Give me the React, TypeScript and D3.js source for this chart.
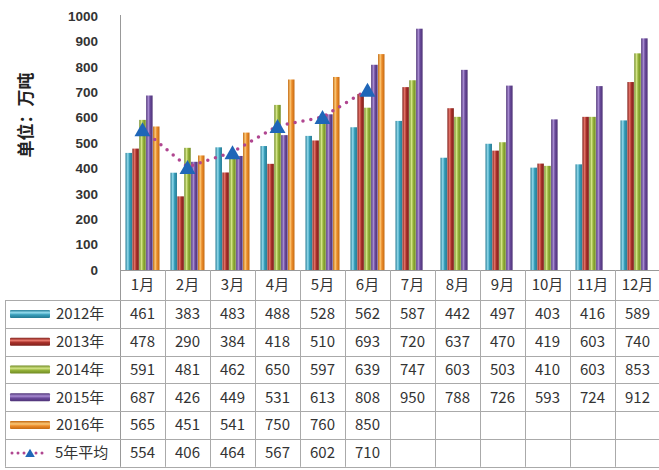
import React from "react";
import * as d3 from "d3";

const months = ["1月", "2月", "3月", "4月", "5月", "6月", "7月", "8月", "9月", "10月", "11月", "12月"];
const seriesNames = ["2012年", "2013年", "2014年", "2015年", "2016年"];
const s2012 = [461, 383, 483, 488, 528, 562, 587, 442, 497, 403, 416, 589];
const s2013 = [478, 290, 384, 418, 510, 693, 720, 637, 470, 419, 603, 740];
const s2014 = [591, 481, 462, 650, 597, 639, 747, 603, 503, 410, 603, 853];
const s2015 = [687, 426, 449, 531, 613, 808, 950, 788, 726, 593, 724, 912];
const s2016 = [565, 451, 541, 750, 760, 850];
const avgName = "5年平均";
const avg5 = [554, 406, 464, 567, 602, 710];
const yTicks = [0, 100, 200, 300, 400, 500, 600, 700, 800, 900, 1000];
const yLabel = "单位：万吨";

const seriesValues = [s2012, s2013, s2014, s2015, s2016];
const colors = [
  { base: "#3a9fbb", light: "#93dcee", dark: "#247a93" },
  { base: "#a8302a", light: "#e5756a", dark: "#7e1f1a" },
  { base: "#95b23a", light: "#d3e486", dark: "#6f8a22" },
  { base: "#6a4a9a", light: "#a98dd3", dark: "#4d3276" },
  { base: "#ec8c2a", light: "#fac878", dark: "#c46a12" },
];
const lineColor = "#b04690";
const markerColor = "#1f66b8";

const W = 659;
const H = 470;
const plotLeft = 120;
const colW = 45;
const plotTop = 16;
const plotBottom = 270;
const headerH = 30;
const rowH = 27.8;
const tableLeft = 5;
const font = "'Noto Sans CJK SC', 'Noto Sans', sans-serif";

export default function App() {
  const x0 = d3.scaleBand<string>().domain(months).range([plotLeft, plotLeft + colW * months.length]).padding(0);
  const x1 = d3.scaleBand<string>().domain(seriesNames).range([5.5, colW - 5.5]).paddingInner(0.06);
  const y = d3.scaleLinear().domain([0, 1000]).range([plotBottom, plotTop]);
  const tableRight = plotLeft + colW * months.length;

  const line = d3
    .line<number>()
    .x((_, i) => (x0(months[i]) as number) + x0.bandwidth() / 2)
    .y((d) => y(d));

  const tri = (cx: number, cy: number) => {
    const w = 16, h = 14;
    return `M${cx},${cy - h / 2} L${cx + w / 2},${cy + h / 2} L${cx - w / 2},${cy + h / 2} Z`;
  };

  const rowTop = (r: number) => plotBottom + headerH + r * rowH;
  const allRows = [...seriesValues, avg5];
  const rowNames = [...seriesNames, avgName];

  return (
    <svg width={W} height={H} style={{ position: "absolute", left: 0, top: 0, background: "#fff" }} fontFamily={font}>
      <defs>
        {colors.map((c, i) => (
          <linearGradient key={i} id={`g${i}`} x1="0" x2="1" y1="0" y2="0">
            <stop offset="0" stopColor={c.dark} />
            <stop offset="0.35" stopColor={c.light} />
            <stop offset="0.6" stopColor={c.base} />
            <stop offset="1" stopColor={c.dark} />
          </linearGradient>
        ))}
        {colors.map((c, i) => (
          <linearGradient key={`v${i}`} id={`gv${i}`} x1="0" x2="0" y1="0" y2="1">
            <stop offset="0" stopColor={c.dark} />
            <stop offset="0.35" stopColor={c.light} />
            <stop offset="0.6" stopColor={c.base} />
            <stop offset="1" stopColor={c.dark} />
          </linearGradient>
        ))}
      </defs>

      {/* y label */}
      <text
        transform={`translate(26,115) rotate(-90)`}
        textAnchor="middle"
        dy="0.35em"
        fontSize={17}
        fontWeight="bold"
        fill="#222"
      >
        {yLabel}
      </text>

      {/* y tick labels */}
      {yTicks.map((t) => (
        <text
          key={t}
          x={98}
          y={y(t)}
          dy="0.35em"
          textAnchor="end"
          fontSize={13.5}
          fontWeight="bold"
          fill="#333"
          fontFamily="'Liberation Sans', Arial, sans-serif"
        >
          {t}
        </text>
      ))}

      {/* bars */}
      {seriesValues.map((vals, si) =>
        vals.map((v, mi) => {
          const bx = (x0(months[mi]) as number) + (x1(seriesNames[si]) as number);
          return (
            <rect
              key={`${si}-${mi}`}
              x={bx}
              y={y(v)}
              width={x1.bandwidth()}
              height={plotBottom - y(v)}
              fill={`url(#g${si})`}
            />
          );
        })
      )}

      {/* avg line */}
      <path
        d={line(avg5) || ""}
        fill="none"
        stroke={lineColor}
        strokeWidth={3.5}
        strokeLinecap="round"
        strokeDasharray="0 8"
      />
      {avg5.map((v, i) => (
        <path key={i} d={tri((x0(months[i]) as number) + x0.bandwidth() / 2, y(v))} fill={markerColor} />
      ))}

      {/* axis lines */}
      <line x1={plotLeft + 0.5} x2={plotLeft + 0.5} y1={plotTop - 1} y2={rowTop(6)} stroke="#999" />
      <line x1={plotLeft} x2={tableRight} y1={plotBottom + 0.5} y2={plotBottom + 0.5} stroke="#999" />

      {/* table grid */}
      {d3.range(0, 7).map((r) => (
        <line
          key={`h${r}`}
          x1={tableLeft}
          x2={tableRight}
          y1={Math.round(rowTop(r)) + 0.5}
          y2={Math.round(rowTop(r)) + 0.5}
          stroke="#aaa"
        />
      ))}
      <line x1={tableLeft + 0.5} x2={tableLeft + 0.5} y1={rowTop(0)} y2={rowTop(6)} stroke="#aaa" />
      {months.map((m, i) => (
        <line
          key={`v${i}`}
          x1={Math.round((x0(m) as number) + colW) + 0.5}
          x2={Math.round((x0(m) as number) + colW) + 0.5}
          y1={plotBottom}
          y2={rowTop(6)}
          stroke="#aaa"
        />
      ))}

      {/* header */}
      {months.map((m) => (
        <text
          key={m}
          x={(x0(m) as number) + colW / 2}
          y={plotBottom + headerH / 2}
          dy="0.35em"
          textAnchor="middle"
          fontSize={15}
          fill="#333"
        >
          {m}
        </text>
      ))}

      {/* rows */}
      {allRows.map((vals, r) => {
        const cy = rowTop(r) + rowH / 2;
        return (
          <g key={r}>
            {r < 5 ? (
              <rect x={10} y={cy - 4} width={40} height={8} fill={`url(#gv${r})`} rx={1} />
            ) : (
              <g>
                <line x1={12} x2={48} y1={cy} y2={cy} stroke={lineColor} strokeWidth={3} strokeLinecap="round" strokeDasharray="0 6" />
                <path d={tri(30, cy)} transform={`translate(30,${cy}) scale(0.6) translate(-30,${-cy})`} fill={markerColor} />
              </g>
            )}
            <text x={r < 5 ? 56 : 55} y={cy} dy="0.35em" fontSize={15} fill="#333">
              {rowNames[r]}
            </text>
            {vals.map((v, i) => (
              <text
                key={i}
                x={(x0(months[i]) as number) + colW / 2}
                y={cy}
                dy="0.35em"
                textAnchor="middle"
                fontSize={15}
                fill="#333"
              >
                {v}
              </text>
            ))}
          </g>
        );
      })}
    </svg>
  );
}
